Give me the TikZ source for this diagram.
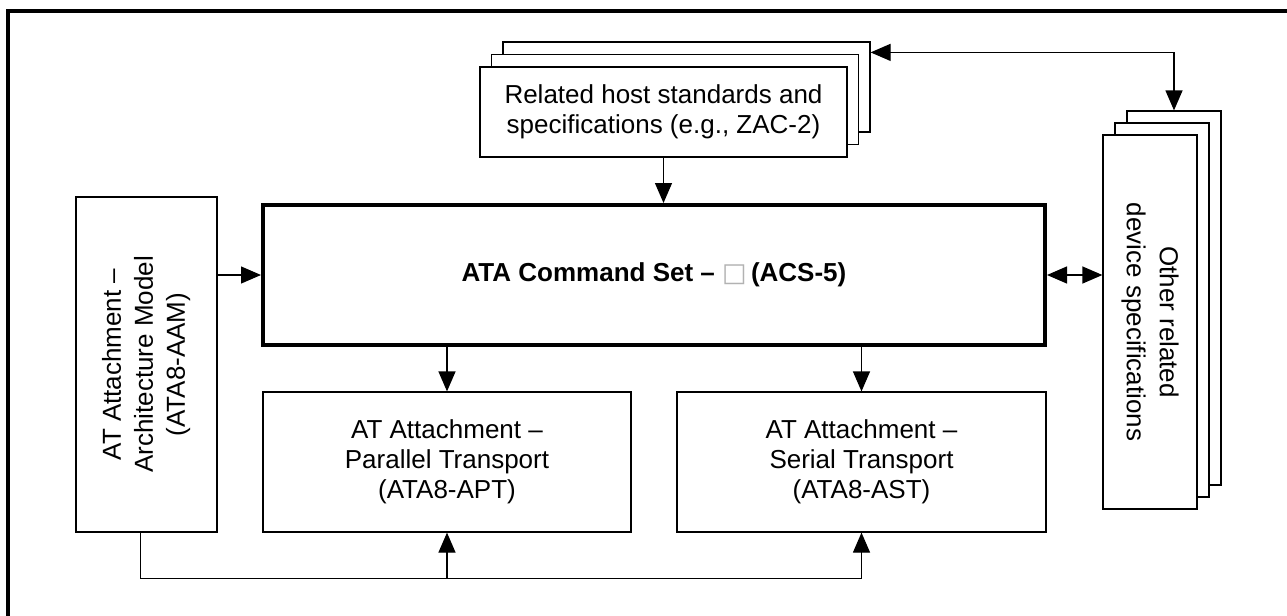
\documentclass[tikz,border=0pt]{standalone}
\usepackage{fontspec}
\setmainfont{Liberation Sans}
\newfontfamily\boxglyph{DejaVu Sans}
\usetikzlibrary{arrows.meta}

\begin{document}
\begin{tikzpicture}[x=0.5pt,y=-0.5pt,
    box/.style={draw,line width=0.6pt,fill=white,inner sep=0pt,align=center,font=\fontsize{13}{15}\selectfont},
    arr/.style={-{Triangle[length=10pt,width=8.5pt]},line width=0.6pt},
    arrs/.style={{Triangle[length=10pt,width=8.5pt]}-{Triangle[length=10pt,width=8.5pt]},line width=0.6pt}]
  \useasboundingbox (0,0) rectangle (1287,616);
  \draw[line width=2pt] (8,616) -- (8,11) -- (1287,11);

  % host standards stack
  \node[box,minimum width=183.5pt,minimum height=45pt] (hostC) at (686.5,87) {};
  \node[box,minimum width=183.5pt,minimum height=45pt] (hostB) at (675,99.5) {};
  \node[box,minimum width=183.5pt,minimum height=45pt] (host) at (663.5,112)
    {Related host standards and\\specifications (e.g., ZAC-2)};

  % device specifications stack
  \node[box,minimum width=47pt,minimum height=187pt] (devC) at (1174,298) {};
  \node[box,minimum width=47pt,minimum height=187pt] (devB) at (1162,310) {};
  \node[box,minimum width=47pt,minimum height=187pt,font=\fontsize{13}{16.5}\selectfont] (dev) at (1150,322)
    {\rotatebox{-90}{\begin{tabular}{@{}c@{}}Other related\\device specifications\end{tabular}}};

  \node[box,line width=2pt,minimum width=391pt,minimum height=70pt,
        font=\bfseries\fontsize{13}{15}\selectfont] (acs) at (654,275)
    {ATA Command Set – {\boxglyph\mdseries\color{gray!60}□}\,(ACS-5)};

  \node[box,minimum width=70.5pt,minimum height=167.5pt,font=\fontsize{13}{16}\selectfont] (aam) at (146.5,364.5)
    {\rotatebox{90}{\begin{tabular}{@{}c@{}}AT Attachment –\\Architecture Model\\(ATA8-AAM)\end{tabular}}};
  \node[box,minimum width=184pt,minimum height=70pt] (apt) at (447,462)
    {AT Attachment –\\Parallel Transport\\(ATA8-APT)};
  \node[box,minimum width=184.5pt,minimum height=70pt] (ast) at (861.5,462)
    {AT Attachment –\\Serial Transport\\(ATA8-AST)};

  \draw[arr] (host.south) -- (host.south |- acs.north);
  \draw[arrs] ([yshift=-5.5pt]hostC.north east) -| (devC.north);
  \draw[arr] (aam.east |- acs.west) -- (acs.west);
  \draw[arrs] (acs.east) -- (acs.east -| dev.west);
  \draw[arr] (acs.south -| apt.north) -- (apt.north);
  \draw[arr] (acs.south -| ast.north) -- (ast.north);
  \draw[arr] ([xshift=-3pt]aam.south) -- ++(0,46) -| (ast.south);
  \draw[arr] ([yshift=-23pt]apt.south) -- (apt.south);
\end{tikzpicture}
\end{document}
